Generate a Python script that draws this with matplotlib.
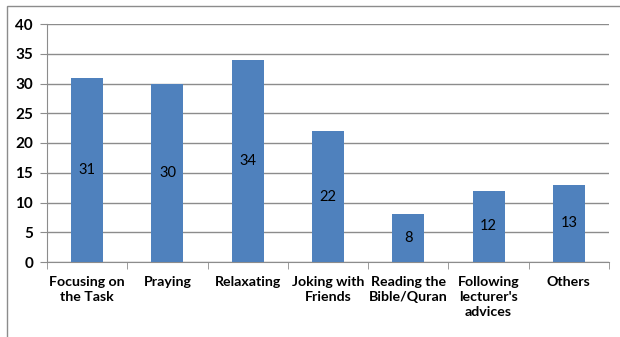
import matplotlib.pyplot as plt
from matplotlib.patches import Rectangle
import numpy as np

categories = ["Focusing on\nthe Task", "Praying", "Relaxating", "Joking with\nFriends",
              "Reading the\nBible/Quran", "Following\nlecturer's\nadvices", "Others"]
counts = [31, 30, 34, 22, 8, 12, 13]

plt.rcParams['font.family'] = ['Lato', 'DejaVu Sans']

fig = plt.figure(figsize=(6.2, 3.37), dpi=100)

# outer chart frame (only top and left edges show)
frame = Rectangle((7 / 620, -0.5), 2, 1.5 - 6 / 337, transform=fig.transFigure,
                  fill=False, edgecolor='#8c8c8c', linewidth=1.0)
fig.add_artist(frame)

ax = fig.add_axes([47 / 620, 1 - 262 / 337, (609 - 47) / 620, (262 - 24) / 337])
x = np.arange(len(categories))
bars = ax.bar(x, counts, width=0.4, color='#4F81BD', zorder=3)

for xi, v in zip(x, counts):
    ax.text(xi, v / 2, str(v), ha='center', va='center', fontsize=10.5, color='black', zorder=4)

ax.set_ylim(0, 40)
ax.set_yticks(range(0, 41, 5))
ax.set_xlim(-0.5, len(categories) - 0.5)
ax.set_xticks(x)
ax.set_xticklabels(categories, fontweight='bold', fontsize=10.2, linespacing=1.3)
ax.set_xticks(np.arange(-0.5, len(categories), 1.0), minor=True)
ax.tick_params(axis='x', which='major', length=0, pad=10)
ax.tick_params(axis='x', which='minor', length=5, color='#8c8c8c')
ax.tick_params(axis='y', length=5, color='#8c8c8c', pad=5)
for lbl in ax.get_yticklabels():
    lbl.set_fontweight('bold')
    lbl.set_fontsize(11)

ax.grid(axis='y', color='#8c8c8c', linewidth=1.0, zorder=0)
ax.spines['top'].set_visible(False)
ax.spines['right'].set_visible(False)
ax.spines['left'].set_color('#8c8c8c')
ax.spines['bottom'].set_color('#8c8c8c')

plt.savefig("out.png", dpi=100)
